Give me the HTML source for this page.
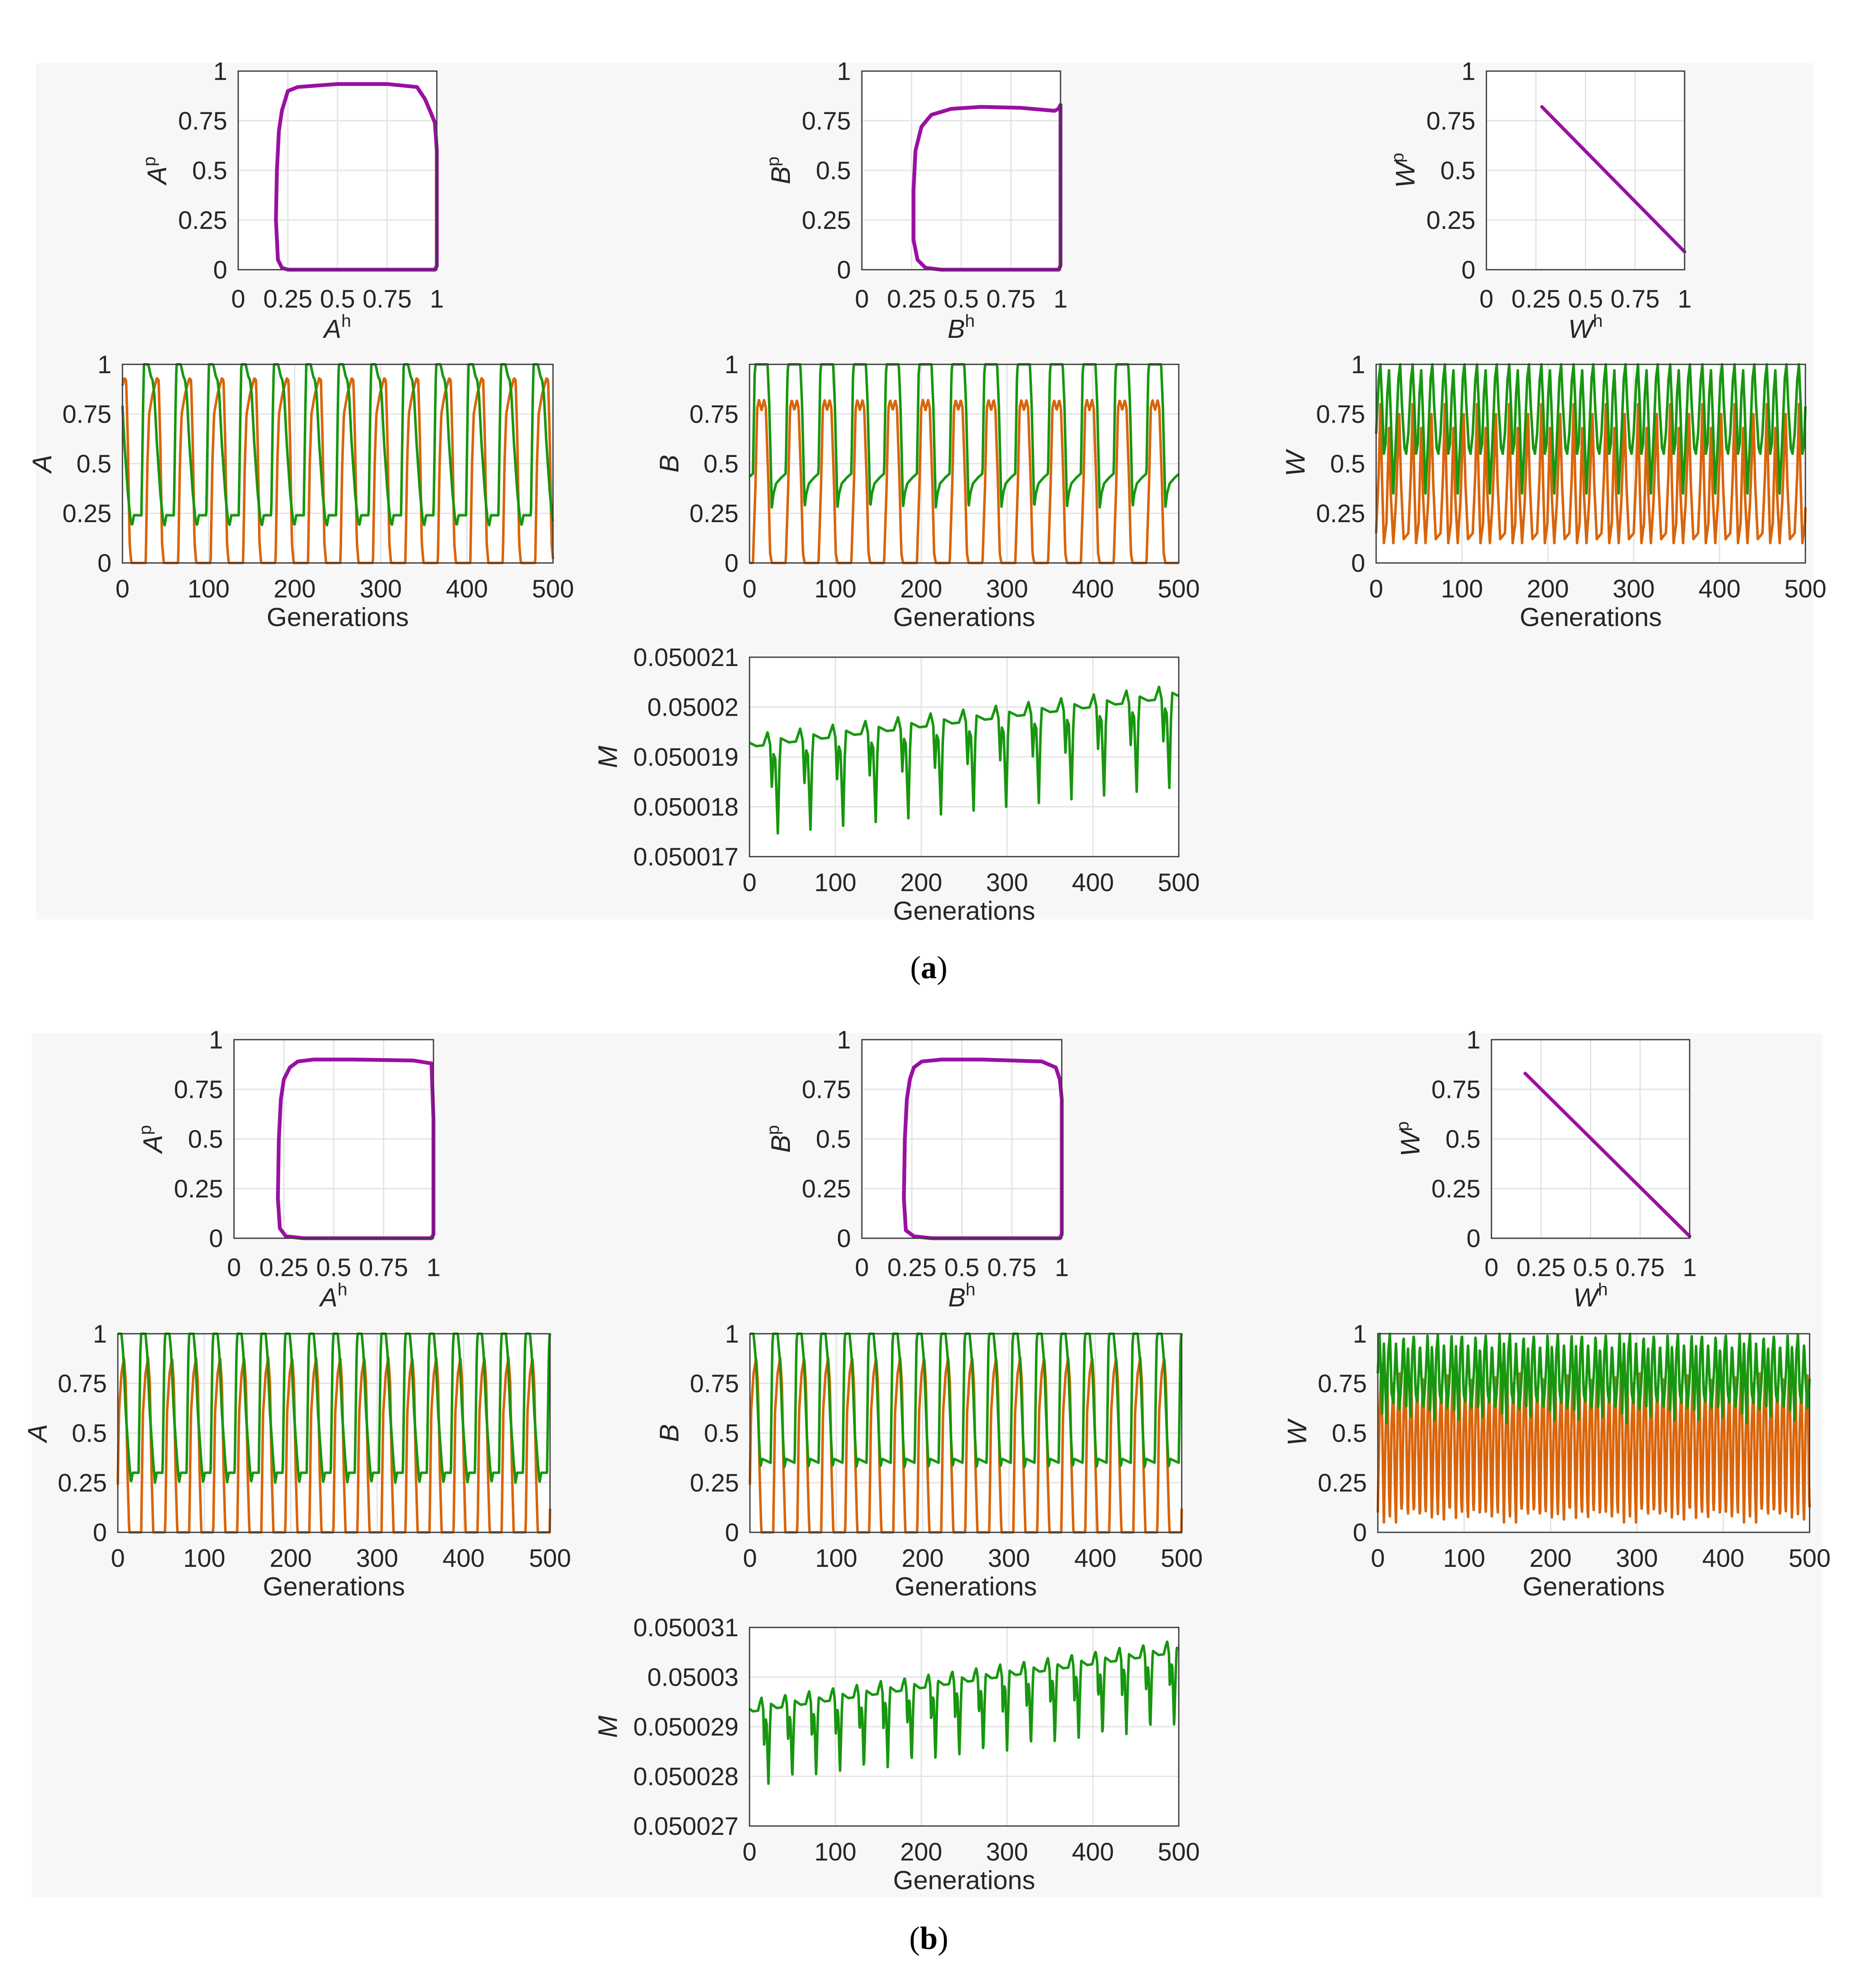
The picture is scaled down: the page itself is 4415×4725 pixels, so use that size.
<!DOCTYPE html>
<html><head><meta charset="utf-8"><style>
html,body{margin:0;padding:0;background:#fff;}
svg{display:block;font-family:"Liberation Sans",sans-serif;}
</style></head><body>
<svg id="fig" width="4415" height="4725" viewBox="0 0 4415 4725" xmlns="http://www.w3.org/2000/svg">
<rect x="0" y="0" width="4415" height="4725" fill="#ffffff"/>
<rect x="85" y="150" width="4225" height="2035" fill="#f7f7f7"/>
<rect x="75" y="2455" width="4255" height="2055" fill="#f7f7f7"/>
<text x="2207" y="2325" text-anchor="middle" font-family="Liberation Serif,serif" font-size="76">(<tspan font-weight="bold">a</tspan>)</text>
<text x="2207" y="4632" text-anchor="middle" font-family="Liberation Serif,serif" font-size="76">(<tspan font-weight="bold">b</tspan>)</text>
</svg>
<script>
// ---------- data: one cycle of each time series (phase in generations, value) ----------
const aPeriodA = 37.7;
const aAGreenT = [0,2,3,8,11,13,15,18,22,25,27,29,37.7];
const aAGreenV = [0.24,0.8,1,1,0.94,0.92,0.85,0.6,0.35,0.22,0.19,0.24,0.24];
const aAOrangeT = [0,5,7,9,13,18,20,22,24,26,37.7];
const aAOrangeV = [0,0,0.5,0.75,0.85,0.93,0.92,0.6,0.1,0,0];
const aPeriodB = 38.2;
const aBGreenT = [0,2,3,17,19,21,22,24,27,33,38.2];
const aBGreenV = [0.45,0.95,1,1,0.8,0.45,0.28,0.35,0.4,0.43,0.45];
const aBOrangeT = [0,3,5,7,10,13,15,18,20,22,38.2];
const aBOrangeV = [0,0.4,0.78,0.82,0.77,0.82,0.78,0.4,0.05,0,0];
const aPeriodW = 37.5;
const aWGreenT = [0,3,5,7,9,11,13,15,17,20,23,26,28,30,33,35,37.5];
const aWGreenV = [0.65,0.92,1,0.8,0.55,0.6,0.85,0.97,0.75,0.35,0.62,0.93,1,0.8,0.58,0.55,0.65];
const aWOrangeT = [0,3,5,7,9,12,15,17,20,23,27,29,32,37.5];
const aWOrangeV = [0.15,0.45,0.8,0.4,0.1,0.2,0.68,0.35,0.1,0.3,0.75,0.4,0.12,0.15];
const aPeriodM = 38;
const aMT = [0,8,11,13,16,18,20,22,25,27,28.5,38];
const aMV = [0,0,1.5,2.5,0,-8.5,-2,-3,-18,-4,1,0];          // offsets, units of 1e-7
const aMStart = 0.0500192, aMEnd = 0.0500202;

const bPeriod = 27.8;
const bAGreenT = [0,2,3,8,10,13,17,19,21,27.8];
const bAGreenV = [0.3,0.9,1,1,0.9,0.6,0.35,0.25,0.3,0.3];
const bAOrangeT = [0,3,5,8,11,13,15,17,27.8];
const bAOrangeV = [0,0,0.6,0.8,0.88,0.75,0.3,0,0];
const bBGreenT = [0,2,3,8,11,14,16,18,27.8];
const bBGreenV = [0.35,0.95,1,1,0.85,0.5,0.33,0.37,0.35];
const bBOrangeT = [0,3,5,8,11,13,15,17,27.8];
const bBOrangeV = [0,0,0.6,0.8,0.88,0.75,0.3,0,0];
const bWGreenT = [0,2,4,5,7,9,10,12,14,16,18,21,23,25,27.8];
const bWGreenV = [0.8,1,0.75,0.6,0.95,0.7,0.55,0.9,1,0.7,0.65,0.95,0.75,0.62,0.8];
const bWOrangeT = [0,2,4,6,7,9,11,13,14,16,18,20,21,23,25,27,27.8];
const bWOrangeV = [0.1,0.6,0.85,0.3,0.05,0.5,0.8,0.2,0.08,0.55,0.75,0.2,0.05,0.6,0.8,0.15,0.1];
const bMT = [0,6,8,10,12,13,15,16,18,20,21,27.8];
const bMV = [0,0,1.5,2.5,0,-7,-2,-3,-15,-3,1,0];
const bMStart = 0.0500293, bMEnd = 0.0500305;

// ---------- phase-plane loops ----------
const aPhAH = [0.25,0.5,0.75,0.99,1,1,0.99,0.97,0.94,0.9,0.75,0.5,0.3,0.25,0.22,0.205,0.195,0.19,0.2,0.22,0.25];
const aPhAP = [0,0,0,0,0.02,0.6,0.74,0.79,0.86,0.92,0.935,0.935,0.92,0.9,0.8,0.7,0.5,0.25,0.05,0.01,0];
const aPhBH = [0.4,0.7,0.99,1,1,0.99,0.97,0.8,0.6,0.45,0.35,0.3,0.27,0.26,0.26,0.28,0.32,0.4];
const aPhBP = [0,0,0,0.02,0.83,0.81,0.8,0.815,0.82,0.81,0.78,0.72,0.6,0.4,0.15,0.05,0.01,0];
const aPhWH = [0.28,1];
const aPhWP = [0.82,0.09];
const bPhAH = [0.35,0.7,0.99,1,1,0.99,0.9,0.6,0.4,0.32,0.28,0.25,0.235,0.225,0.22,0.23,0.26,0.35];
const bPhAP = [0,0,0,0.02,0.6,0.88,0.895,0.9,0.9,0.89,0.86,0.8,0.7,0.5,0.2,0.05,0.01,0];
const bPhBH = [0.35,0.7,0.99,1,1,0.99,0.97,0.9,0.6,0.4,0.3,0.26,0.24,0.225,0.215,0.21,0.22,0.26,0.35];
const bPhBP = [0,0,0,0.02,0.7,0.8,0.86,0.89,0.9,0.9,0.89,0.86,0.8,0.7,0.5,0.2,0.04,0.01,0];
const bPhWH = [0.17,1];
const bPhWP = [0.83,0.01];

const unitTicks = [0,0.25,0.5,0.75,1];
const unitTickLabels = ["0","0.25","0.5","0.75","1"];
const genTicks = [0,100,200,300,400,500];
const genTickLabels = ["0","100","200","300","400","500"];
const aMTicks = [0.050017,0.050018,0.050019,0.05002,0.050021];
const aMTickLabels = ["0.050017","0.050018","0.050019","0.05002","0.050021"];
const bMTicks = [0.050027,0.050028,0.050029,0.05003,0.050031];
const bMTickLabels = ["0.050027","0.050028","0.050029","0.05003","0.050031"];

const GREEN = "#17970f", ORANGE = "#d9650b", PURPLE = "#9a10a2";
const NS = "http://www.w3.org/2000/svg";
const svg = document.getElementById("fig");

function mk(tag, attrs, parent) {
  const e = document.createElementNS(NS, tag);
  for (const k in attrs) e.setAttribute(k, attrs[k]);
  (parent || svg).appendChild(e);
  return e;
}
function cyc(T, V, P, off, t) {
  let ph = ((t - off) % P + P) % P;
  for (let i = 0; i < T.length - 1; i++) {
    if (ph >= T[i] && ph <= T[i + 1]) {
      const f = (ph - T[i]) / (T[i + 1] - T[i] || 1);
      return V[i] + f * (V[i + 1] - V[i]);
    }
  }
  return V[V.length - 1];
}

function axes(o) {
  const g = mk("g", {});
  
  
  const sx = v => o.x0 + (v - o.xmin) / (o.xmax - o.xmin) * (o.x1 - o.x0);
  const sy = v => o.y1 - (v - o.ymin) / (o.ymax - o.ymin) * (o.y1 - o.y0);
  mk("rect", {x:o.x0, y:o.y0, width:o.x1-o.x0, height:o.y1-o.y0, fill:"#fff"}, g);
  const tickDy = o.phase ? 90 : 82;
  o.xt.forEach((v, i) => {
    const x = sx(v);
    const gl = mk("line", {x1:x, x2:x, y1:o.y0, y2:o.y1, stroke:"#e3e3e3", "stroke-width":3}, g);
    
    
    const t = mk("text", {x:x, y:o.y1 + tickDy, "text-anchor":"middle", "font-size":60, fill:"#262626"}, g);
    t.textContent = o.xl[i];
    
    
  });
  o.yt.forEach((v, i) => {
    const y = sy(v);
    const gl = mk("line", {x1:o.x0, x2:o.x1, y1:y, y2:y, stroke:"#e3e3e3", "stroke-width":3}, g);
    
    
    const t = mk("text", {x:o.x0 - 26, y:y + 21, "text-anchor":"end", "font-size":60, fill:"#262626"}, g);
    t.textContent = o.yl[i];
    
    
  });
  const plot = mk("g", {}, g);
  
  
  const box = mk("rect", {x:o.x0, y:o.y0, width:o.x1-o.x0, height:o.y1-o.y0, fill:"none", stroke:"#3a3a3a", "stroke-width":3}, g);
  
  
  const xl = mk("text", {x:(o.x0+o.x1)/2, y:o.y1 + (o.phase ? 162 : 150), "text-anchor":"middle", "font-size":62, fill:"#262626"}, g);
  
  
  if (o.xsym) {
    const a = mk("tspan", {"font-style":"italic"}, xl); a.textContent = o.xsym;
    const b = mk("tspan", {"font-size":42, dy:-26}, xl); b.textContent = "h";
  } else xl.textContent = "Generations";
  const yx = o.ylx, yy = (o.y0 + o.y1) / 2;
  const yl = mk("text", {x:yx, y:yy, "text-anchor":"middle", "font-size":64, fill:"#262626", transform:`rotate(-90 ${yx} ${yy})`}, g);
  
  
  const a = mk("tspan", {"font-style":"italic"}, yl); a.textContent = o.ysym;
  if (o.phase) { const b = mk("tspan", {"font-size":42, dy:-26}, yl); b.textContent = "p"; }
  g.insertBefore(plot, box);
  return {sx, sy, plot};
}

function tsPanel(o, gT, gV, oT, oV, P, offG, offO) {
  const ax = axes(Object.assign({xmin:0,xmax:500,ymin:0,ymax:1,xt:genTicks,xl:genTickLabels,yt:unitTicks,yl:unitTickLabels}, o));
  [[oT,oV,offO,ORANGE,'orange-series-line'],[gT,gV,offG,GREEN,'green-series-line']].forEach(s => {
    let d = "";
    for (let t = 0; t <= 500; t += 0.5) {
      d += (t === 0 ? "M" : "L") + ax.sx(t).toFixed(1) + "," + ax.sy(cyc(s[0], s[1], P, s[2], t)).toFixed(1);
    }
    const p = mk("path", {d, fill:"none", stroke:s[3], "stroke-width":6, "stroke-linejoin":"round"}, ax.plot);
    
    
  });
}
function mPanel(o, T, V, P, off, m0, m1) {
  const ax = axes(Object.assign({xmin:0,xmax:500,xt:genTicks,xl:genTickLabels}, o));
  let d = "";
  for (let t = 0; t <= 500; t += 0.5) {
    const v = m0 + (m1 - m0) * t / 500 + cyc(T, V, P, off, t) * 1e-7;
    d += (t === 0 ? "M" : "L") + ax.sx(t).toFixed(1) + "," + ax.sy(v).toFixed(1);
  }
  const p = mk("path", {d, fill:"none", stroke:GREEN, "stroke-width":6, "stroke-linejoin":"round"}, ax.plot);
  
  
}
function phPanel(o, H, Pv, line) {
  const ax = axes(Object.assign({xmin:0,xmax:1,ymin:0,ymax:1,xt:unitTicks,xl:unitTickLabels,yt:unitTicks,yl:unitTickLabels,phase:true}, o));
  let d = "";
  H.forEach((h, i) => { d += (i === 0 ? "M" : "L") + ax.sx(h).toFixed(1) + "," + ax.sy(Pv[i]).toFixed(1); });
  const p = mk("path", {d, fill:"none", stroke:PURPLE, "stroke-width":line ? 8 : 9, "stroke-linejoin":"round", "stroke-linecap":"round"}, ax.plot);
  
  
}

// ---------- panel (a) ----------
phPanel({name:'a-phase-A', x0:566,x1:1038,y0:169,y1:641, xsym:"A", ysym:"A", ylx:395}, aPhAH, aPhAP);
phPanel({name:'a-phase-B', x0:2048,x1:2520,y0:169,y1:641, xsym:"B", ysym:"B", ylx:1877}, aPhBH, aPhBP);
phPanel({name:'a-phase-W', x0:3532,x1:4003,y0:169,y1:641, xsym:"W", ysym:"W", ylx:3361}, aPhWH, aPhWP, true);
tsPanel({name:'a-timeseries-A', x0:291,x1:1314,y0:866,y1:1338, ysym:"A", ylx:122}, aAGreenT, aAGreenV, aAOrangeT, aAOrangeV, aPeriodA, 22, 22);
tsPanel({name:'a-timeseries-B', x0:1781,x1:2801,y0:866,y1:1338, ysym:"B", ylx:1612}, aBGreenT, aBGreenV, aBOrangeT, aBOrangeV, aPeriodB, 4, 4);
tsPanel({name:'a-timeseries-W', x0:3270,x1:4290,y0:866,y1:1338, ysym:"W", ylx:3100}, aWGreenT, aWGreenV, aWOrangeT, aWOrangeV, aPeriodW, 0, 0);
mPanel({name:'a-timeseries-M', x0:1781,x1:2801,y0:1562,y1:2036, ymin:0.050017, ymax:0.050021, yt:aMTicks, yl:aMTickLabels, ysym:"M", ylx:1466}, aMT, aMV, aPeriodM, 8, aMStart, aMEnd);

// ---------- panel (b) ----------
phPanel({name:'b-phase-A', x0:556,x1:1030,y0:2471,y1:2943, xsym:"A", ysym:"A", ylx:385}, bPhAH, bPhAP);
phPanel({name:'b-phase-B', x0:2048,x1:2523,y0:2471,y1:2943, xsym:"B", ysym:"B", ylx:1877}, bPhBH, bPhBP);
phPanel({name:'b-phase-W', x0:3544,x1:4015,y0:2471,y1:2943, xsym:"W", ysym:"W", ylx:3373}, bPhWH, bPhWP, true);
tsPanel({name:'b-timeseries-A', x0:280,x1:1307,y0:3170,y1:3642, ysym:"A", ylx:111}, bAGreenT, bAGreenV, bAOrangeT, bAOrangeV, bPeriod, 24, 24);
tsPanel({name:'b-timeseries-B', x0:1782,x1:2808,y0:3170,y1:3642, ysym:"B", ylx:1612}, bBGreenT, bBGreenV, bBOrangeT, bBOrangeV, bPeriod, 24, 24);
tsPanel({name:'b-timeseries-W', x0:3274,x1:4300,y0:3170,y1:3642, ysym:"W", ylx:3104}, bWGreenT, bWGreenV, bWOrangeT, bWOrangeV, bPeriod, 0, 0);
mPanel({name:'b-timeseries-M', x0:1781,x1:2801,y0:3868,y1:4340, ymin:0.050027, ymax:0.050031, yt:bMTicks, yl:bMTickLabels, ysym:"M", ylx:1466}, bMT, bMV, bPeriod, 4, bMStart, bMEnd);
</script>
</body></html>
